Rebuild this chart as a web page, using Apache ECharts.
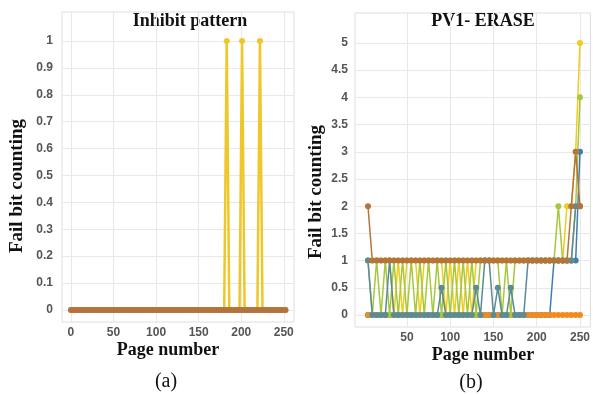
<!DOCTYPE html>
<html>
<head>
<meta charset="utf-8">
<script src="https://cdn.jsdelivr.net/npm/echarts@6/dist/echarts.min.js"></script>
<style>
  html, body { margin: 0; padding: 0; background: #fff; }
  #chart { width: 593px; height: 395px; }
</style>
</head>
<body>
<div id="chart"></div>
<script>
// (a) Inhibit pattern
const pagesA = [
  0, 3, 6, 9, 12, 15, 18, 21, 24, 27, 30, 33, 36, 39, 42, 45, 48, 51, 54, 57,
  60, 63, 66, 69, 72, 75, 78, 81, 84, 87, 90, 93, 96, 99, 102, 105, 108, 111, 114, 117,
  120, 123, 126, 129, 132, 135, 138, 141, 144, 147, 150, 153, 156, 159, 162, 165, 168, 171, 174, 177,
  180, 183, 186, 189, 192, 195, 198, 201, 204, 207, 210, 213, 216, 219, 222, 225, 228, 231, 234, 237,
  240, 243, 246, 249, 252
];
const inhibitYellow = [
  0, 0, 0, 0, 0, 0, 0, 0, 0, 0, 0, 0, 0, 0, 0, 0, 0, 0, 0, 0,
  0, 0, 0, 0, 0, 0, 0, 0, 0, 0, 0, 0, 0, 0, 0, 0, 0, 0, 0, 0,
  0, 0, 0, 0, 0, 0, 0, 0, 0, 0, 0, 0, 0, 0, 0, 0, 0, 0, 0, 0,
  0, 1, 0, 0, 0, 0, 0, 1, 0, 0, 0, 0, 0, 0, 1, 0, 0, 0, 0, 0,
  0, 0, 0, 0, 0
];
const inhibitBrown = [
  0, 0, 0, 0, 0, 0, 0, 0, 0, 0, 0, 0, 0, 0, 0, 0, 0, 0, 0, 0,
  0, 0, 0, 0, 0, 0, 0, 0, 0, 0, 0, 0, 0, 0, 0, 0, 0, 0, 0, 0,
  0, 0, 0, 0, 0, 0, 0, 0, 0, 0, 0, 0, 0, 0, 0, 0, 0, 0, 0, 0,
  0, 0, 0, 0, 0, 0, 0, 0, 0, 0, 0, 0, 0, 0, 0, 0, 0, 0, 0, 0,
  0, 0, 0, 0, 0
];
const ticksA_x = [0, 50, 100, 150, 200, 250];
const ticksA_y = [0, 0.1, 0.2, 0.3, 0.4, 0.5, 0.6, 0.7, 0.8, 0.9, 1];

// (b) PV1- ERASE
const pagesB = [
  5, 10, 15, 20, 25, 30, 35, 40, 45, 50,
  55, 60, 65, 70, 75, 80, 85, 90, 95, 100,
  105, 110, 115, 120, 125, 130, 135, 140, 145, 150,
  155, 160, 165, 170, 175, 180, 185, 190, 195, 200,
  205, 210, 215, 220, 225, 230, 235, 240, 245, 250
];
const eraseBlue = [
  0, 0, 0, 0, 0, 0, 0, 0, 0, 0,
  0, 0, 0, 0, 0, 0, 0, 0, 0, 0,
  0, 0, 0, 0, 0, 0, 0, 0, 0, 0,
  0, 0, 0, 0, 0, 0, 0, 0, 0, 0,
  0, 0, 0, 1, 1, 1, 1, 1, 1, 3
];
const eraseOrange = [
  0, 0, 0, 0, 0, 0, 0, 0, 0, 0,
  0, 0, 0, 0, 0, 0, 0, 0, 0, 0,
  0, 0, 0, 0, 0, 0, 0, 0, 0, 0,
  0, 0, 0, 0, 0, 0, 0, 0, 0, 0,
  0, 0, 0, 0, 0, 0, 0, 0, 0, 0
];
const eraseYellow = [
  1, 1, 1, 1, 1, 1, 0, 1, 0, 1,
  1, 1, 0, 1, 1, 1, 1, 1, 0, 1,
  0, 1, 0, 1, 0, 1, 1, 1, 1, 1,
  1, 1, 1, 1, 1, 1, 1, 1, 1, 1,
  1, 1, 1, 1, 1, 1, 2, 2, 3, 5
];
const eraseGreen = [
  1, 0, 1, 0, 1, 0, 1, 0, 1, 0,
  1, 0, 1, 0, 1, 0, 1, 0, 1, 0,
  1, 0, 1, 0, 1, 0, 1, 1, 1, 1,
  1, 0, 1, 0, 1, 1, 1, 1, 1, 1,
  1, 1, 1, 1, 2, 1, 1, 1, 2, 4
];
const eraseTeal = [
  1, 0, 0, 0, 0, 1, 0, 0, 0, 0,
  0, 0, 0, 0, 0, 0, 0, 0.5, 0, 0,
  0, 0, 0, 0, 0, 0.5, 0, 1, 1, 0,
  0.5, 0, 0, 0.5, 0, 0, 0, 1, 1, 1,
  1, 1, 1, 1, 1, 1, 1, 1, 2, 2
];
const eraseBrown = [
  2, 1, 1, 1, 1, 1, 1, 1, 1, 1,
  1, 1, 1, 1, 1, 1, 1, 1, 1, 1,
  1, 1, 1, 1, 1, 1, 1, 1, 1, 1,
  1, 1, 1, 1, 1, 1, 1, 1, 1, 1,
  1, 1, 1, 1, 1, 1, 1, 2, 3, 2
];
const ticksB_x = [50, 100, 150, 200, 250];
const ticksB_y = [0, 0.5, 1, 1.5, 2, 2.5, 3, 3.5, 4, 4.5, 5];

function zipXY(xs, ys) {
  return xs.map((x, i) => [x, ys[i]]);
}

const labelStyle = {
  color: "#555",
  fontFamily: "Liberation Sans",
  fontWeight: "bold",
  fontSize: 12
};
const gridLine = { show: true, lineStyle: { color: "#e8e8e8", width: 1 } };

function valueAxis(gridIndex, min, max, ticks, margin) {
  return {
    type: "value",
    gridIndex: gridIndex,
    min: min,
    max: max,
    axisLine: { show: false },
    axisTick: { show: false, customValues: ticks },
    axisLabel: Object.assign({ customValues: ticks, margin: margin }, labelStyle),
    splitLine: gridLine
  };
}

function lineSeries(name, xi, yi, xs, ys, color, lw, size) {
  return {
    name: name,
    type: "line",
    xAxisIndex: xi,
    yAxisIndex: yi,
    data: zipXY(xs, ys),
    symbol: "circle",
    symbolSize: size,
    clip: false,
    lineStyle: { color: color, width: lw },
    itemStyle: { color: color },
    emphasis: { disabled: true }
  };
}

const chart = echarts.init(document.getElementById("chart"), null, { renderer: "canvas" });

const serif = "Liberation Serif";
const option = {
  animation: false,
  backgroundColor: "#fff",
  grid: [
    { left: 62, right: 299, top: 12, bottom: 73, show: true, borderColor: "#dedede", borderWidth: 1 },
    { left: 355, right: 1, top: 13, bottom: 68, show: true, borderColor: "#dedede", borderWidth: 1 }
  ],
  xAxis: [
    valueAxis(0, -10.5, 262, ticksA_x, 5),
    valueAxis(1, -10, 262, ticksB_x, 5)
  ],
  yAxis: [
    valueAxis(0, -0.045, 1.108, ticksA_y, 9),
    valueAxis(1, -0.22, 5.55, ticksB_y, 7)
  ],
  graphic: [
    { type: "text", x: 190, y: 21, style: { text: "Inhibit pattern", font: "bold 18px " + serif, fill: "#111", textAlign: "center", textVerticalAlign: "middle" } },
    { type: "text", x: 483, y: 21, style: { text: "PV1- ERASE", font: "bold 18px " + serif, fill: "#111", textAlign: "center", textVerticalAlign: "middle" } },
    { type: "text", x: 17, y: 186, rotation: Math.PI / 2, style: { text: "Fail bit counting", font: "bold 19px " + serif, fill: "#111", textAlign: "center", textVerticalAlign: "middle" } },
    { type: "text", x: 316, y: 192, rotation: Math.PI / 2, style: { text: "Fail bit counting", font: "bold 19px " + serif, fill: "#111", textAlign: "center", textVerticalAlign: "middle" } },
    { type: "text", x: 168, y: 350, style: { text: "Page number", font: "bold 18px " + serif, fill: "#111", textAlign: "center", textVerticalAlign: "middle" } },
    { type: "text", x: 483, y: 355, style: { text: "Page number", font: "bold 18px " + serif, fill: "#111", textAlign: "center", textVerticalAlign: "middle" } },
    { type: "text", x: 166, y: 382, style: { text: "(a)", font: "20px " + serif, fill: "#111", textAlign: "center", textVerticalAlign: "middle" } },
    { type: "text", x: 471, y: 383, style: { text: "(b)", font: "20px " + serif, fill: "#111", textAlign: "center", textVerticalAlign: "middle" } }
  ],
  series: [
    lineSeries("inhibit-yellow", 0, 0, pagesA, inhibitYellow, "#efc72a", 2.5, 6),
    lineSeries("inhibit-brown", 0, 0, pagesA, inhibitBrown, "#b2733f", 2, 6),
    lineSeries("erase-blue", 1, 1, pagesB, eraseBlue, "#3f7db4", 1.5, 6),
    lineSeries("erase-orange", 1, 1, pagesB, eraseOrange, "#f28a1e", 1.5, 6),
    lineSeries("erase-yellow", 1, 1, pagesB, eraseYellow, "#f1cb1f", 1.5, 6),
    lineSeries("erase-green", 1, 1, pagesB, eraseGreen, "#a6c83c", 1.5, 6),
    lineSeries("erase-teal", 1, 1, pagesB, eraseTeal, "#5a8b96", 1.5, 6),
    lineSeries("erase-brown", 1, 1, pagesB, eraseBrown, "#b5743c", 1.5, 6)
  ]
};

chart.setOption(option);
</script>
</body>
</html>
